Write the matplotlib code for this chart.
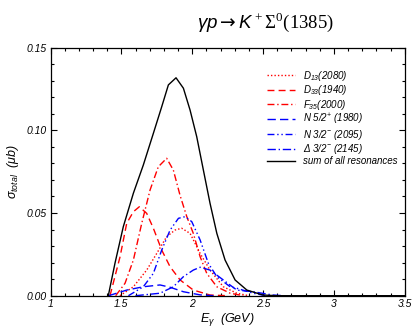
"""Total cross section of gamma p -> K+ Sigma0(1385) with resonance contributions."""

import matplotlib
matplotlib.use("Agg")
import matplotlib.pyplot as plt
from matplotlib.ticker import MultipleLocator

plt.rcParams["font.family"] = "Liberation Sans"
plt.rcParams["font.style"] = "italic"
plt.rcParams["mathtext.fontset"] = "custom"
plt.rcParams["mathtext.it"] = "Liberation Sans:italic"
plt.rcParams["mathtext.sf"] = "Liberation Sans:italic"
plt.rcParams["mathtext.rm"] = "Liberation Serif:style=normal"
plt.rcParams["mathtext.bf"] = "DejaVu Sans:style=normal:weight=normal"

# photon energy (GeV) and cross sections (micro barn)
e_sum = [1.408, 1.455, 1.514, 1.585, 1.655, 1.726, 1.785, 1.832, 1.886, 1.938,
         1.985, 2.032, 2.079, 2.126, 2.174, 2.232, 2.303, 2.386, 2.50, 2.60, 3.5]
s_sum = [0.0, 0.0196, 0.0418, 0.062, 0.079, 0.0982, 0.1143, 0.1275, 0.1318, 0.1255,
         0.1123, 0.0962, 0.076, 0.0559, 0.0377, 0.0216, 0.0095, 0.0034, 0.0004, 0.0, 0.0]

e_d33 = [1.42, 1.491, 1.538, 1.585, 1.627, 1.679, 1.726, 1.785, 1.844, 1.915, 2.008, 2.126, 2.25]
s_d33 = [0.0, 0.0236, 0.0438, 0.0508, 0.0538, 0.0498, 0.0408, 0.0276, 0.0175, 0.0095, 0.0034, 0.0004, 0.0]

e_f35 = [1.46, 1.526, 1.585, 1.644, 1.703, 1.761, 1.82, 1.867, 1.915, 1.962,
         2.008, 2.056, 2.103, 2.174, 2.268, 2.36]
s_f35 = [0.0, 0.0075, 0.0216, 0.0438, 0.064, 0.078, 0.0831, 0.076, 0.0605, 0.0478,
         0.0377, 0.0236, 0.0135, 0.0054, 0.0015, 0.0]

e_d13 = [1.49, 1.585, 1.679, 1.75, 1.82, 1.879, 1.926, 1.985, 2.056, 2.126, 2.22, 2.315, 2.40]
s_d13 = [0.0, 0.0054, 0.0155, 0.0256, 0.0357, 0.0397, 0.0408, 0.0377, 0.0256, 0.0155, 0.0054, 0.0015, 0.0]

e_n52 = [1.41, 1.538, 1.655, 1.773, 1.844, 1.938, 2.056, 2.15]
s_n52 = [0.0, 0.0034, 0.0054, 0.0065, 0.0051, 0.0024, 0.0005, 0.0]

e_n32 = [1.55, 1.655, 1.726, 1.785, 1.844, 1.903, 1.95, 1.997, 2.056, 2.114,
         2.174, 2.268, 2.315, 2.43, 2.52]
s_n32 = [0.0, 0.0054, 0.0135, 0.0276, 0.0397, 0.0468, 0.0478, 0.0448, 0.0337, 0.0196,
         0.0115, 0.0054, 0.0045, 0.0015, 0.0]

e_d32 = [1.60, 1.773, 1.867, 1.938, 2.008, 2.056, 2.126, 2.22, 2.315, 2.43, 2.57, 2.65]
s_d32 = [0.0, 0.0015, 0.0054, 0.0115, 0.0155, 0.0172, 0.0155, 0.0095, 0.0034, 0.0024, 0.0004, 0.0]

fig = plt.figure(figsize=(4.15, 3.33), dpi=100)
ax = fig.add_axes([50.5 / 415, 1 - 295.7 / 333, 354.2 / 415, 248 / 333])

lw = 1.0
ax.plot(e_d13, s_d13, color="red", lw=lw, ls=(0, (1, 1.5)), label=r"$D_{\mathsf{13}}$(2080)")
ax.plot(e_d33, s_d33, color="red", lw=lw, ls=(0, (5, 3)), label=r"$D_{\mathsf{33}}$(1940)")
ax.plot(e_f35, s_f35, color="red", lw=lw, ls=(0, (5, 2, 1, 2)), label=r"$F_{\mathsf{35}}$(2000)")
ax.plot(e_n52, s_n52, color="blue", lw=lw, ls=(0, (6, 3)), label=r"N 5/2$^{\mathsf{+}}$ (1980)")
ax.plot(e_n32, s_n32, color="blue", lw=lw, ls=(0, (5, 2, 1, 2, 1, 2)),
        label=r"N 3/2$^{\mathsf{-}}$ (2095)")
ax.plot(e_d32, s_d32, color="blue", lw=lw, ls=(0, (6, 2, 1, 2)), label=r"Δ 3/2$^{\mathsf{-}}$ (2145)")
ax.plot(e_sum, s_sum, color="black", lw=lw, label="sum of all resonances")

ax.set_xlim(1, 3.5)
ax.set_ylim(0, 0.15)
ax.xaxis.set_major_locator(MultipleLocator(0.5))
ax.xaxis.set_minor_locator(MultipleLocator(0.1))
ax.yaxis.set_major_locator(MultipleLocator(0.05))
ax.yaxis.set_minor_locator(MultipleLocator(0.01))
ax.xaxis.set_major_formatter(lambda v, p: f"{v:g}")
ax.yaxis.set_major_formatter(lambda v, p: f"{v:.2f}")
ax.tick_params(which="both", direction="in", top=True, right=True, labelsize=7.5, pad=2.5)
ax.tick_params(which="major", length=4.3, width=0.8)
ax.tick_params(which="minor", length=2.2, width=0.8)
for s in ax.spines.values():
    s.set_linewidth(0.9)

ax.set_xlabel(r"$E_{\gamma}$  (GeV)", fontsize=9, labelpad=1)
ax.set_ylabel(r"$\sigma_{total}$  (μb)", fontsize=9, labelpad=4)

fig.text(266 / 415, 1 - 27.5 / 333, r"$\gamma p \mathbf{\rightarrow} K^+\Sigma^0(1385)$",
         ha="center", va="baseline", fontsize=13.5)

ax.legend(loc="upper left", bbox_to_anchor=(0.61, 0.915), frameon=False, fontsize=7,
          borderpad=0, borderaxespad=0, handlelength=2.9, handletextpad=0.8,
          labelspacing=0.04)

fig.savefig("out.png", dpi=100)
